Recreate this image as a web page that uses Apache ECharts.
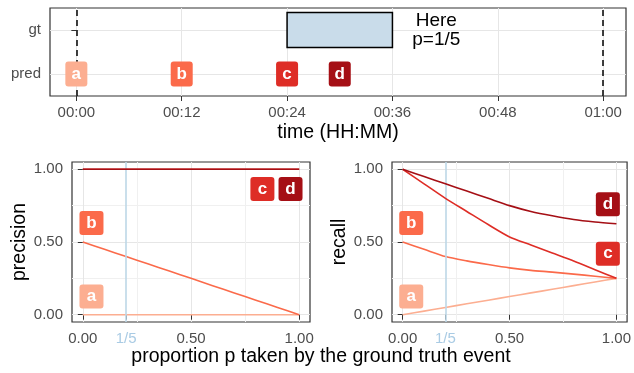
<!DOCTYPE html>
<html><head><meta charset="utf-8">
<script src="https://cdn.jsdelivr.net/npm/echarts@6/dist/echarts.min.js"></script>
<style>html,body{margin:0;padding:0;background:#fff}#c{width:634px;height:373px}</style>
</head><body><div id="c"></div>
<script>
// ---------- data ----------
const predLetters = ['a', 'b', 'c', 'd'];
const predTimes = [0, 12, 24, 30];           // minutes
const gtEvent = [24, 36];                    // minutes
const windowBounds = [0, 60];                // minutes (dashed lines)
const timeTicks = [0, 12, 24, 36, 48, 60];
const rowTicks = [1, 2];
const rowNames = ['pred', 'gt'];
const hereNote = [41, 2];
const hereText = 'Here\np=1/5';

const pTicks = [0, 0.2, 0.5, 1];
const pTickLabels = ['0.00', '1/5', '0.50', '1.00'];
const valueTicks = [0, 0.5, 1];
const valueTickLabels = ['0.00', '0.50', '1.00'];
const gridTicks = [0, 0.25, 0.5, 0.75, 1];
const pHighlight = 0.2;

const pGrid = [0, 0.1, 0.2, 0.3, 0.4, 0.5, 0.6, 0.7, 0.8, 0.9, 1.0];
const precisionA = [0, 0, 0, 0, 0, 0, 0, 0, 0, 0, 0];
const precisionB = [0.5, 0.45, 0.4, 0.35, 0.3, 0.25, 0.2, 0.15, 0.1, 0.05, 0];
const precisionC = [1, 1, 1, 1, 1, 1, 1, 1, 1, 1, 1];
const precisionD = [1, 1, 1, 1, 1, 1, 1, 1, 1, 1, 1];
const recallA = [0, 0.025, 0.05, 0.075, 0.1, 0.125, 0.15, 0.175, 0.2, 0.225, 0.25];
const recallB = [0.5, 0.45, 0.40, 0.37, 0.345, 0.322, 0.305, 0.293, 0.279, 0.265, 0.25];
const recallC = [1, 0.90, 0.80, 0.71, 0.62, 0.535, 0.48, 0.425, 0.37, 0.31, 0.25];
const recallD = [1, 0.95, 0.90, 0.85, 0.80, 0.75, 0.71, 0.68, 0.655, 0.638, 0.625];

// label anchor positions (data coordinates)
const precLabelPos = [[0.04, 0.125], [0.04, 0.63], [0.83, 0.865], [0.96, 0.865]];
const recLabelPos = [[0.04, 0.125], [0.04, 0.63], [0.96, 0.42], [0.96, 0.76]];

// ---------- styles ----------
const letterColors = ['#FCAE91', '#FB6A4A', '#DE2D26', '#A50F15'];
const FONT = '"Liberation Sans", Arial, Helvetica, sans-serif';
const TICK_COLOR = '#4D4D4D';
const BORDER = '#333333';
const GRID_MAJOR = '#E6E6E6';
const GRID_MINOR = '#F0F0F0';
const HIGHLIGHT = '#BDD7E7';
const HIGHLIGHT_TEXT = '#A9CBE4';
const GT_FILL = '#C9DCEA';

function fmtTime(m) {
  const h = Math.floor(m / 60), mm = Math.round(m % 60);
  return String(h).padStart(2, '0') + ':' + String(mm).padStart(2, '0');
}
function boxLabel(letter, color, w, h) {
  return {
    show: true, position: 'inside', formatter: letter, opacity: 1,
    color: '#fff', fontWeight: 'bold', fontSize: 17, fontFamily: FONT,
    backgroundColor: color, borderRadius: 3, width: w, height: h, lineHeight: h,
    align: 'center', verticalAlign: 'middle'
  };
}
const hiddenItem = { color: 'rgba(0,0,0,0)', opacity: 1 };
const tickStyle = { show: true, length: 5, lineStyle: { color: BORDER, width: 1 } };
const labelStyle = { fontSize: 15, color: TICK_COLOR, fontFamily: FONT, margin: 9 };

function pAxis(gridIndex) {
  return {
    type: 'value', gridIndex, min: -0.05, max: 1.05,
    axisLine: { show: false },
    axisTick: Object.assign({}, tickStyle, { customValues: pTicks }),
    axisLabel: Object.assign({}, labelStyle, {
      customValues: pTicks,
      formatter: v => {
        const i = pTicks.findIndex(t => Math.abs(t - v) < 1e-9);
        const s = i >= 0 ? pTickLabels[i] : '';
        return Math.abs(v - pHighlight) < 1e-9 ? '{h|' + s + '}' : s;
      },
      rich: { h: { color: HIGHLIGHT_TEXT, fontSize: 15, fontFamily: FONT } }
    }),
    splitLine: { show: false }
  };
}
function gridAxis(gridIndex) {
  return {
    type: 'value', gridIndex, min: -0.05, max: 1.05,
    axisLine: { show: false },
    axisTick: { show: false, customValues: gridTicks },
    axisLabel: { show: false },
    splitLine: { show: true, lineStyle: { color: [GRID_MAJOR, GRID_MINOR], width: 1 } }
  };
}
function vAxis(gridIndex, name) {
  return {
    type: 'value', gridIndex, min: -0.05, max: 1.05,
    axisLine: { show: false },
    axisTick: Object.assign({}, tickStyle, { customValues: valueTicks }),
    axisLabel: Object.assign({}, labelStyle, {
      customValues: valueTicks,
      formatter: v => {
        const i = valueTicks.findIndex(t => Math.abs(t - v) < 1e-9);
        return i >= 0 ? valueTickLabels[i] : '';
      }
    }),
    splitLine: { show: false },
    name, nameLocation: 'middle', nameGap: 42,
    nameTextStyle: { fontSize: 19.5, color: '#000', fontFamily: FONT }
  };
}

const series = [];

// ---- top panel ----
series.push({
  type: 'scatter', xAxisIndex: 0, yAxisIndex: 0, silent: true,
  symbolSize: 1, itemStyle: hiddenItem,
  data: [hereNote],
  label: {
    show: true, position: 'inside', formatter: hereText, color: '#000', opacity: 1,
    fontSize: 19, lineHeight: 19, fontFamily: FONT, align: 'center', verticalAlign: 'middle'
  },
  markArea: {
    silent: true,
    itemStyle: { color: GT_FILL, opacity: 1, borderColor: '#000', borderWidth: 1.5 },
    data: [[{ coord: [gtEvent[0], 1.6] }, { coord: [gtEvent[1], 2.4] }]]
  },
  markLine: {
    silent: true, symbol: ['none', 'none'], label: { show: false },
    lineStyle: { color: '#000', width: 1.5, type: [6, 4], opacity: 1 },
    data: windowBounds.map(x => ({ xAxis: x }))
  },
  z: 3
});
series.push({
  type: 'scatter', xAxisIndex: 0, yAxisIndex: 0, silent: true, clip: false,
  symbolSize: 1, itemStyle: hiddenItem,
  data: predTimes.map((t, i) => ({ value: [t, 1], label: boxLabel(predLetters[i], letterColors[i], 22, 25) })),
  z: 5
});

// ---- bottom panels ----
function panel(xi, yi, values, labelPos) {
  values.forEach((vals, i) => {
    const s = {
      type: 'line', xAxisIndex: xi, yAxisIndex: yi, silent: true,
      showSymbol: false, symbol: 'none', smooth: 0.25,
      lineStyle: { color: letterColors[i], width: 1.6, opacity: 1 },
      data: pGrid.map((p, k) => [p, vals[k]]),
      z: 3 + i
    };
    if (i === 0) {
      s.markLine = {
        silent: true, symbol: ['none', 'none'], label: { show: false },
        lineStyle: { color: HIGHLIGHT, width: 1.6, type: 'solid', opacity: 1 },
        data: [{ xAxis: pHighlight }]
      };
    }
    series.push(s);
  });
  series.push({
    type: 'scatter', xAxisIndex: xi, yAxisIndex: yi, silent: true, clip: false,
    symbolSize: 1, itemStyle: hiddenItem,
    data: labelPos.map((pos, i) => ({ value: pos, label: boxLabel(predLetters[i], letterColors[i], 24, 24) })),
    z: 10
  });
}

const option = {
  animation: false,
  backgroundColor: '#fff',
  textStyle: { fontFamily: FONT },
  grid: [
    { left: 50, top: 8, width: 576, height: 88, show: true, borderColor: BORDER, borderWidth: 1.2, backgroundColor: 'rgba(0,0,0,0)' },
    { left: 72, top: 162, width: 238, height: 160, show: true, borderColor: BORDER, borderWidth: 1.2, backgroundColor: 'rgba(0,0,0,0)' },
    { left: 392, top: 162, width: 238, height: 160, show: true, borderColor: BORDER, borderWidth: 1.2, backgroundColor: 'rgba(0,0,0,0)' }
  ],
  // xAxis: 0 time | 1 p (left) | 2 gridlines (left) | 3 p (right) | 4 gridlines (right)
  xAxis: [
    {
      type: 'value', gridIndex: 0, min: -3, max: 62.6,
      axisLine: { show: false },
      axisTick: Object.assign({}, tickStyle, { customValues: timeTicks }),
      axisLabel: Object.assign({}, labelStyle, { customValues: timeTicks, formatter: v => fmtTime(v) }),
      splitLine: { show: true, lineStyle: { color: GRID_MAJOR, width: 1 } },
      name: 'time (HH:MM)', nameLocation: 'middle', nameGap: 27,
      nameTextStyle: { fontSize: 19.5, color: '#000', fontFamily: FONT }
    },
    pAxis(1), gridAxis(1), pAxis(2), gridAxis(2)
  ],
  // yAxis: 0 rows | 1 precision | 2 gridlines (left) | 3 recall | 4 gridlines (right)
  yAxis: [
    {
      type: 'value', gridIndex: 0, min: 0.5, max: 2.5,
      axisLine: { show: false },
      axisTick: Object.assign({}, tickStyle, { customValues: rowTicks }),
      axisLabel: Object.assign({}, labelStyle, { customValues: rowTicks, formatter: v => rowNames[Math.round(v) - 1] || '' }),
      splitLine: { show: true, lineStyle: { color: GRID_MAJOR, width: 1 } }
    },
    vAxis(1, 'precision'), gridAxis(1), vAxis(2, 'recall'), gridAxis(2)
  ],
  graphic: [{
    type: 'text', x: 321, y: 357,
    style: { text: 'proportion p taken by the ground truth event', font: '19.5px ' + FONT, fill: '#000', textAlign: 'center', textVerticalAlign: 'middle' }
  }],
  series
};
panel(1, 1, [precisionA, precisionB, precisionC, precisionD], precLabelPos);
panel(3, 3, [recallA, recallB, recallC, recallD], recLabelPos);

const chart = echarts.init(document.getElementById('c'), null, { renderer: 'canvas' });
chart.setOption(option);
</script>
</body></html>
